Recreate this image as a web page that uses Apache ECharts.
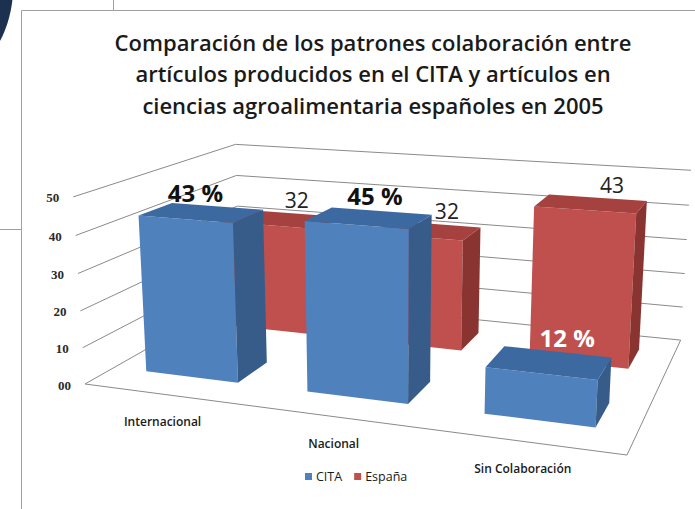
<!DOCTYPE html>
<html>
<head>
<meta charset="utf-8">
<style>
  html, body { margin: 0; padding: 0; background: #fff; }
  #chart { width: 695px; height: 509px; }
</style>
<script src="https://cdn.jsdelivr.net/npm/echarts@6/dist/echarts.min.js"></script>
</head>
<body>
<div id="chart"></div>
<script>
(function() {
  var categories = ['Internacional', 'Nacional', 'Sin Colaboración'];
  var citaValues = [43, 45, 12];
  var espanaValues = [32, 32, 43];
  var citaLabels = ['43 %', '45 %', '12 %'];
  var espanaLabels = ['32', '32', '43'];
  var tickValues = [0, 10, 20, 30, 40, 50];
  var tickLabels = ['00', '10', '20', '30', '40', '50'];

  var blue = ['#4f81bd', '#3d69a1', '#375c89'];   // front, top, side
  var red = ['#c0504d', '#a5413e', '#8a3432'];
  var gridColor = '#8a8a8a';
  var ink = '#1a1a1a';
  var sans = '"Open Sans", "Noto Sans", sans-serif';

  // perspective of the 3-D box, fitted to the picture, in homogeneous pixels:
  // origin = front-left floor corner, then one unit step along categories, values, depth
  var P0 = [85, 384, 1];
  var PX = [454.6, 7.6, -0.1394];
  var PY = [-14.5, -194.5, -0.0376];
  var PZ = [214.3, -14.9, 0.247];
  function project(x, y, z) {
    var w = P0[2] + x * PX[2] + y * PY[2] + z * PZ[2];
    return [
      (P0[0] + x * PX[0] + y * PY[0] + z * PZ[0]) / w,
      (P0[1] + x * PX[1] + y * PY[1] + z * PZ[1]) / w
    ];
  }
  // grid pixel -> fraction of the box
  function unitX(cs, px) { return (px - cs.x) / cs.width; }
  function unitY(cs, py) { return (cs.y + cs.height - py) / cs.height; }

  var HALF_DEPTH = 0.0975;

  // labels sit above the lid; offset drifts right with the category position
  function barRenderer(depth, colors, labels, labelStyle, offset) {
    return function(params, api) {
      var cs = params.coordSys;
      var pt = api.coord([api.value(0), api.value(1)]);
      var half = api.size([1, 0])[0] * 0.29 / cs.width;
      var xc = unitX(cs, pt[0]);
      var x0 = xc - half, x1 = xc + half;
      var top = unitY(cs, pt[1]);
      var z0 = depth - HALF_DEPTH, z1 = depth + HALF_DEPTH;
      var front = [project(x0, 0, z0), project(x1, 0, z0), project(x1, top, z0), project(x0, top, z0)];
      var side = [project(x1, 0, z0), project(x1, 0, z1), project(x1, top, z1), project(x1, top, z0)];
      var lid = [project(x0, top, z0), project(x1, top, z0), project(x1, top, z1), project(x0, top, z1)];
      var anchor = project(xc, top, depth);
      var off = offset(xc);
      return {
        type: 'group',
        children: [
          { type: 'polygon', shape: { points: front }, style: { fill: colors[0] } },
          { type: 'polygon', shape: { points: side }, style: { fill: colors[2] } },
          { type: 'polygon', shape: { points: lid }, style: { fill: colors[1] } },
          {
            type: 'text', z2: 10,
            x: anchor[0] + off[0], y: anchor[1] + off[1],
            style: {
              text: labels[params.dataIndex], align: 'center', verticalAlign: 'middle',
              fontFamily: sans, fontSize: labelStyle.size, fontWeight: labelStyle.weight,
              fill: labelStyle.color(params.dataIndex)
            }
          }
        ]
      };
    };
  }

  function renderWall(params, api) {
    var cs = params.coordSys;
    var y = unitY(cs, api.coord([0, api.value(1)])[1]);
    var a = project(0, y, 0), b = project(0, y, 1), c = project(1, y, 1);
    var line = { stroke: gridColor, fill: null, lineWidth: 1 };
    var children = [
      { type: 'polyline', shape: { points: [a, b, c] }, style: line },
      {
        type: 'text', x: a[0] - 14, y: a[1] + 1,
        style: {
          text: tickLabels[params.dataIndex], align: 'right', verticalAlign: 'middle',
          fontFamily: '"Liberation Serif", serif', fontWeight: 'bold', fontSize: 13, fill: '#2a2a2a'
        }
      }
    ];
    if (api.value(1) === 0) {
      // floor: front and right edges
      children.push({ type: 'polyline', shape: { points: [a, project(1, 0, 0), project(1, 0, 1)] }, style: line });
    }
    return { type: 'group', children: children };
  }

  function renderCategory(params, api) {
    var cs = params.coordSys;
    var xc = unitX(cs, api.coord([api.value(0), 0])[0]);
    var p = project(xc, 0, 0);
    return {
      type: 'text', x: p[0] - 2, y: p[1] + 27,
      style: {
        text: categories[params.dataIndex], align: 'center', verticalAlign: 'middle',
        fontFamily: sans, fontWeight: 600, fontSize: 12, fill: ink
      }
    };
  }

  var chart = echarts.init(document.getElementById('chart'), null, { renderer: 'svg' });
  chart.setOption({
    animation: false,
    backgroundColor: '#fff',
    title: {
      text: 'Comparación de los patrones colaboración entre\nartículos producidos en el CITA y artículos en\nciencias agroalimentaria españoles en 2005',
      left: 368, top: 21, textAlign: 'center',
      textStyle: { fontFamily: sans, fontSize: 22, fontWeight: 600, color: ink, lineHeight: 31.5 }
    },
    legend: {
      data: ['CITA', 'España'],
      left: 305, top: 470, padding: 0,
      icon: 'rect', itemWidth: 7, itemHeight: 7, itemGap: 12,
      textStyle: { fontFamily: sans, fontSize: 12.5, color: ink, padding: [0, 0, 0, -1] }
    },
    grid: { left: 0, right: 0, top: 0, bottom: 0, show: false },
    xAxis: { type: 'category', data: categories, show: false },
    yAxis: { type: 'value', min: 0, max: 50, interval: 10, show: false },
    graphic: [
      { type: 'circle', shape: { cx: -102, cy: -12, r: 115 }, style: { fill: '#1c3050' } },
      { type: 'line', shape: { x1: 21.5, y1: 10.5, x2: 695, y2: 10.5 }, style: { stroke: '#a0a0a0', lineWidth: 1 } },
      { type: 'line', shape: { x1: 21.5, y1: 10.5, x2: 21.5, y2: 509 }, style: { stroke: '#a0a0a0', lineWidth: 1 } },
      { type: 'line', shape: { x1: 113.5, y1: 0, x2: 113.5, y2: 10 }, style: { stroke: '#a0a0a0', lineWidth: 1 } },
      { type: 'line', shape: { x1: 0, y1: 229.5, x2: 21, y2: 229.5 }, style: { stroke: '#a0a0a0', lineWidth: 1 } }
    ],
    series: [
      {
        type: 'custom', z: 1, silent: true,
        data: tickValues.map(function(v) { return [0, v]; }),
        renderItem: renderWall
      },
      {
        type: 'custom', z: 1, silent: true,
        data: categories.map(function(c, i) { return [i, 0]; }),
        renderItem: renderCategory
      },
      {
        name: 'España', type: 'custom', z: 2,
        itemStyle: { color: red[0] },
        data: espanaValues.map(function(v, i) { return [i, v]; }),
        renderItem: barRenderer(0.76, red, espanaLabels,
          { size: 21, weight: 'normal', color: function() { return '#222'; } },
          function(xc) { return [21, -19]; })
      },
      {
        name: 'CITA', type: 'custom', z: 3,
        itemStyle: { color: blue[0] },
        data: citaValues.map(function(v, i) { return [i, v]; }),
        renderItem: barRenderer(0.255, blue, citaLabels,
          { size: 24, weight: 'bold', color: function(i) { return citaValues[i] < espanaValues[i] ? '#fff' : '#111'; } },
          function(xc) { return [-12 + 36 * xc, -19 - 7 * xc]; })
      }
    ]
  });
  window.addEventListener('resize', function() { chart.resize(); });
})();
</script>
</body>
</html>
